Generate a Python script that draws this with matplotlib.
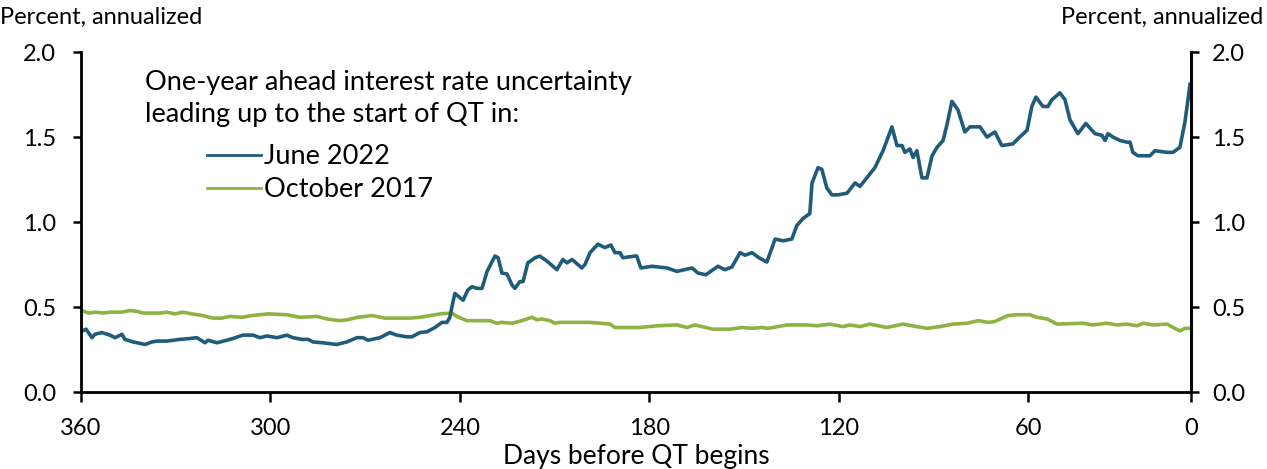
import matplotlib.pyplot as plt
from matplotlib.lines import Line2D

# days before QT begins and annualized uncertainty
june_days = [360, 358.4, 356.5, 355.6, 353.4, 350.8, 349.2, 347, 346.1, 343.5, 339.7, 337.5,
             335.9, 332.8, 328.7, 325.5, 323.3, 320.7, 319.8, 316.9, 313.8, 311.9, 308.7, 305.5,
             303.3, 301.1, 297.9, 294.8, 292.9, 290, 288.1, 286.5, 283.4, 279, 275.8, 272.6,
             270.7, 269.1, 265.3, 262.2, 260, 256.8, 255.2, 252.7, 250.4, 247.9, 245.7, 244.1,
             243.2, 242.2, 241.6, 240.6, 239, 237.5, 236.2, 234.6, 233, 231.4, 228.9, 227.9,
             226.7, 225.1, 223.5, 222.6, 221, 220, 218.5, 216.2, 214.7, 212.4, 209.3, 207.4,
             206.1, 204.5, 201.4, 200.4, 198.8, 196.3, 194.1, 192.2, 190.9, 189.3, 188.4, 184.6,
             184, 182.7, 179.2, 174.4, 171.3, 166.5, 164.6, 162.1, 158.3, 156.1, 153.9, 151.3,
             149.7, 147.5, 145.3, 142.8, 140.2, 137.7, 134.9, 133.3, 131.4, 129.2, 128.5, 126.6,
             125.4, 123.8, 122.2, 120.3, 117.4, 114.9, 113.3, 108.6, 106, 103.2, 101.6, 100,
             99.1, 97.5, 96.5, 95.3, 93.7, 92.1, 90.5, 88.9, 87, 85.8, 84.2, 82.3,
             80.1, 78.5, 75.3, 73.1, 70.6, 68.4, 64.9, 63.3, 60.4, 58.9, 57.6, 55.4,
             53.8, 52.5, 50, 48.4, 46.8, 44.3, 41.8, 38.9, 36.7, 35.7, 34.8, 33.2,
             31, 28.8, 27.8, 26.9, 25.3, 21.5, 19.9, 16.1, 14.2, 12, 10.4, 8.8]
june_vals = [0.355, 0.37, 0.32, 0.34, 0.35, 0.335, 0.32, 0.34, 0.31, 0.295, 0.28, 0.295,
             0.30, 0.30, 0.31, 0.315, 0.32, 0.29, 0.305, 0.29, 0.305, 0.315, 0.335, 0.335,
             0.32, 0.33, 0.32, 0.335, 0.32, 0.31, 0.31, 0.295, 0.29, 0.28, 0.295, 0.32,
             0.32, 0.305, 0.32, 0.35, 0.335, 0.325, 0.325, 0.35, 0.355, 0.38, 0.41, 0.41,
             0.44, 0.53, 0.58, 0.565, 0.54, 0.60, 0.62, 0.61, 0.61, 0.71, 0.80, 0.79,
             0.70, 0.695, 0.63, 0.61, 0.65, 0.65, 0.76, 0.79, 0.80, 0.77, 0.72, 0.78,
             0.76, 0.78, 0.73, 0.75, 0.82, 0.87, 0.85, 0.865, 0.82, 0.82, 0.79, 0.80,
             0.80, 0.73, 0.74, 0.73, 0.71, 0.73, 0.70, 0.69, 0.74, 0.72, 0.735, 0.82,
             0.805, 0.82, 0.79, 0.765, 0.90, 0.89, 0.90, 0.98, 1.02, 1.05, 1.23, 1.32,
             1.31, 1.20, 1.16, 1.16, 1.17, 1.23, 1.21, 1.32, 1.42, 1.56, 1.45, 1.45,
             1.41, 1.43, 1.38, 1.42, 1.26, 1.26, 1.39, 1.44, 1.48, 1.57, 1.71, 1.66,
             1.53, 1.56, 1.56, 1.50, 1.53, 1.45, 1.46, 1.49, 1.54, 1.68, 1.735, 1.68,
             1.68, 1.72, 1.76, 1.72, 1.60, 1.52, 1.58, 1.52, 1.51, 1.48, 1.52, 1.50,
             1.48, 1.47, 1.47, 1.41, 1.39, 1.39, 1.42, 1.41, 1.41, 1.44, 1.59, 1.81]

oct_days = [360, 357.5, 355.3, 353, 350.8, 347, 344.5, 342.3, 340.4, 335, 332.8, 330.2,
            327.7, 324.9, 321.4, 318.2, 315.4, 312.8, 309, 305.9, 300.8, 294.8, 290.7, 285.3,
            282.1, 278, 275.8, 272.3, 267.9, 263.7, 255.8, 252.7, 249.5, 246.3, 242.5, 241,
            237.8, 230.5, 228.3, 226.7, 223.5, 220.4, 217.2, 215.6, 214, 211.5, 209.9, 208.3,
            198.8, 192.5, 190.9, 183, 177.6, 171.3, 168.1, 165.6, 159.9, 154.5, 150.7, 147.5,
            144.4, 142.5, 140.9, 136.4, 130.1, 126.9, 122.8, 118.7, 116.5, 113.3, 110.2, 104.8,
            99.7, 95.3, 92.1, 88, 83.9, 79.4, 75.9, 72.8, 70.6, 66.5, 63.6, 59.5,
            57.3, 54.1, 50.9, 42.7, 39.5, 35.1, 31.9, 28.8, 25.6, 23.6, 20.5, 16.1,
            14.2, 12, 10.4, 8.8]
oct_vals = [0.48, 0.465, 0.47, 0.465, 0.47, 0.47, 0.48, 0.475, 0.465, 0.465, 0.47, 0.46,
            0.47, 0.46, 0.45, 0.435, 0.435, 0.445, 0.44, 0.45, 0.46, 0.455, 0.44, 0.445,
            0.43, 0.42, 0.425, 0.44, 0.45, 0.435, 0.435, 0.44, 0.45, 0.46, 0.465, 0.445,
            0.42, 0.42, 0.405, 0.41, 0.405, 0.42, 0.44, 0.425, 0.43, 0.42, 0.405, 0.41,
            0.41, 0.40, 0.38, 0.38, 0.39, 0.395, 0.38, 0.395, 0.37, 0.37, 0.38, 0.375,
            0.38, 0.375, 0.38, 0.395, 0.395, 0.39, 0.40, 0.385, 0.395, 0.385, 0.40, 0.38,
            0.40, 0.385, 0.375, 0.385, 0.40, 0.405, 0.42, 0.41, 0.415, 0.45, 0.455, 0.455,
            0.44, 0.43, 0.40, 0.405, 0.395, 0.405, 0.395, 0.40, 0.39, 0.405, 0.395, 0.40,
            0.38, 0.36, 0.375, 0.375]

# category-style axis: the last label "0" sits at the axis end
tick_days = [360, 300, 240, 180, 120, 60, 8.5]
tick_labels = ['360', '300', '240', '180', '120', '60', '0']
y_ticks = [0.0, 0.5, 1.0, 1.5, 2.0]

BLUE = '#1F5C7A'
GREEN = '#8DB342'

plt.rcParams['font.family'] = ['Lato', 'DejaVu Sans']
plt.rcParams['font.size'] = 17

fig = plt.figure(figsize=(12.67, 4.69), dpi=100)
ax = fig.add_axes([0.0639, 0.164, 0.8761, 0.725])

ax.plot(oct_days, oct_vals, color=GREEN, lw=2.6, solid_joinstyle='round')
ax.plot(june_days, june_vals, color=BLUE, lw=2.6, solid_joinstyle='round')

ax.set_xlim(360, 8.5)
ax.set_ylim(0, 2.0)
ax.set_xticks(tick_days)
ax.set_xticklabels(tick_labels)
ax.set_yticks(y_ticks)
ax.set_yticklabels([f'{v:.1f}' for v in y_ticks])
ax.tick_params(axis='x', direction='out', length=7, width=1.8, pad=12)
ax.tick_params(axis='y', direction='out', length=6, width=1.8, pad=12)
ax.spines['top'].set_visible(False)
for s in ['left', 'right', 'bottom']:
    ax.spines[s].set_linewidth(2)

ax2 = ax.twinx()
ax2.set_ylim(0, 2.0)
ax2.set_yticks(y_ticks)
ax2.set_yticklabels([f'{v:.1f}' for v in y_ticks])
ax2.tick_params(axis='y', direction='out', length=6, width=1.8, pad=9)
ax2.spines['top'].set_visible(False)
ax2.spines['right'].set_linewidth(2)

ax.set_xlabel('Days before QT begins', labelpad=3, fontsize=19)

fig.text(0.0, 0.985, 'Percent, annualized', ha='left', va='top')
fig.text(0.997, 0.985, 'Percent, annualized', ha='right', va='top')

LEG_SIZE = 19.5
fig.text(0.1145, 0.825, 'One-year ahead interest rate uncertainty', ha='left', va='center',
         fontsize=LEG_SIZE)
fig.text(0.1145, 0.755, 'leading up to the start of QT in:', ha='left', va='center',
         fontsize=LEG_SIZE)

handles = [Line2D([], [], color=BLUE, lw=2), Line2D([], [], color=GREEN, lw=2)]
fig.legend(handles, ['June 2022', 'October 2017'], loc='upper left',
           bbox_to_anchor=(0.1634, 0.693), frameon=False, fontsize=LEG_SIZE,
           handlelength=2.0, handletextpad=0.12, labelspacing=0.3,
           borderpad=0, borderaxespad=0)

fig.savefig('out.png', dpi=100)
